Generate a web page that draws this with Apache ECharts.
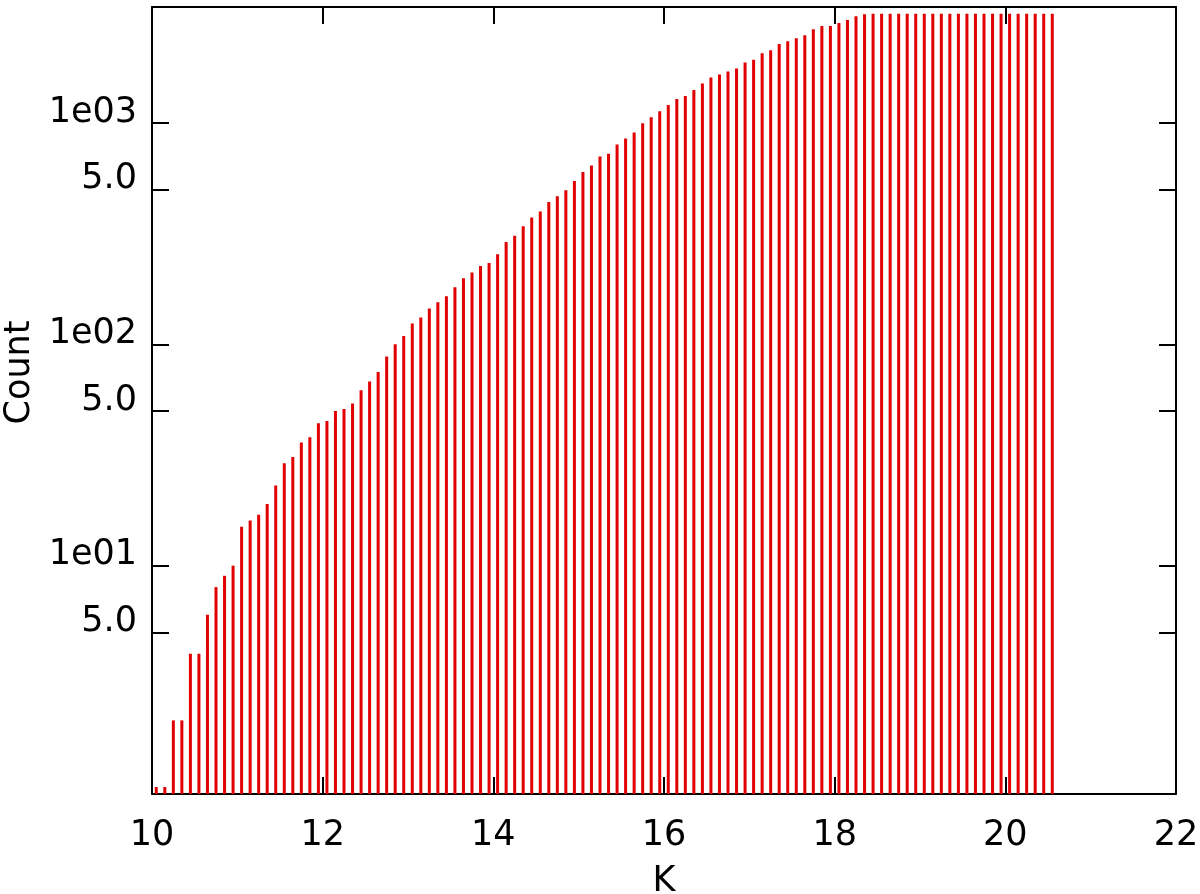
<!DOCTYPE html>
<html>
<head>
<meta charset="utf-8">
<script src="https://cdn.jsdelivr.net/npm/echarts@6/dist/echarts.min.js"></script>
<style>
html,body{margin:0;padding:0;background:#fff;}
#chart{width:1200px;height:894px;}
</style>
</head>
<body>
<div id="chart"></div>
<script>
// Bin centres (K magnitude)
var binCenters = [
  10.05,10.15,10.25,10.35,10.45,10.55,10.65,10.75,10.85,10.95,
  11.05,11.15,11.25,11.35,11.45,11.55,11.65,11.75,11.85,11.95,
  12.05,12.15,12.25,12.35,12.45,12.55,12.65,12.75,12.85,12.95,
  13.05,13.15,13.25,13.35,13.45,13.55,13.65,13.75,13.85,13.95,
  14.05,14.15,14.25,14.35,14.45,14.55,14.65,14.75,14.85,14.95,
  15.05,15.15,15.25,15.35,15.45,15.55,15.65,15.75,15.85,15.95,
  16.05,16.15,16.25,16.35,16.45,16.55,16.65,16.75,16.85,16.95,
  17.05,17.15,17.25,17.35,17.45,17.55,17.65,17.75,17.85,17.95,
  18.05,18.15,18.25,18.35,18.45,18.55,18.65,18.75,18.85,18.95,
  19.05,19.15,19.25,19.35,19.45,19.55,19.65,19.75,19.85,19.95,
  20.05,20.15,20.25,20.35,20.45,20.55
];
// Cumulative counts
var counts = [
  1,1,2,2,4,4,6,8,9,10,
  15,16,17,19,23,29,31,36,38,44,
  45,50,51,54,62,68,75,88,100,109,
  124,132,145,155,165,181,199,211,226,233,
  255,290,309,341,374,398,439,467,497,547,
  601,642,705,725,800,851,905,997,1061,1129,
  1206,1283,1324,1409,1506,1603,1653,1706,1760,1873,
  1932,2063,2128,2273,2337,2412,2488,2648,2741,2741,
  2828,2917,3030,3100,3117,3117,3117,3117,3117,3117,
  3117,3117,3117,3117,3117,3117,3117,3117,3117,3117,
  3117,3117,3117,3117,3117,3117
];
var xTicks = [10,12,14,16,18,20,22];
var yTickValues = [5,10,50,100,500,1000];
var yTickLabels = ['5.0','1e01','5.0','1e02','5.0','1e03'];

var Y_MIN = 0.93, Y_MAX = 3340;
var FONT = 'DejaVu Sans';
var FS = 35;
var data = binCenters.map(function(k,i){ return [k, counts[i]]; });

var chart = echarts.init(document.getElementById('chart'), null, {renderer:'canvas'});
var axisLine = {show:true, lineStyle:{color:'#000', width:2}};
var tick = {show:true, inside:true, length:17, lineStyle:{color:'#000', width:2}};
function yFmt(v){
  var i = yTickValues.indexOf(Math.round(v));
  return i >= 0 ? yTickLabels[i] : '';
}
chart.setOption({
  animation:false,
  backgroundColor:'#fff',
  grid:{left:152, right:24, top:7, bottom:100, containLabel:false, outerBoundsMode:'none'},
  xAxis:[{
    type:'value', min:10, max:22, interval:2, position:'bottom',
    name:'K', nameLocation:'middle', nameGap:70,
    nameTextStyle:{fontFamily:FONT, fontSize:FS, color:'#000'},
    axisLine:axisLine, axisTick:tick, splitLine:{show:false},
    axisLabel:{fontFamily:FONT, fontSize:FS, color:'#000', margin:24,
      customValues:xTicks, formatter:function(v){return String(v);}}
  },{
    type:'value', min:10, max:22, interval:2, position:'top',
    axisLine:axisLine, axisTick:tick, splitLine:{show:false},
    axisLabel:{show:false}
  }],
  yAxis:[{
    type:'log', min:Y_MIN, max:Y_MAX, position:'left',
    name:'Count', nameLocation:'middle', nameGap:113, nameRotate:90,
    nameTextStyle:{fontFamily:FONT, fontSize:FS, color:'#000', padding:[0,0,0,56]},
    axisLine:axisLine,
    axisTick:{show:true, inside:true, length:17, lineStyle:{color:'#000', width:2}, customValues:yTickValues},
    splitLine:{show:false}, minorTick:{show:false},
    axisLabel:{fontFamily:FONT, fontSize:FS, color:'#000', margin:15,
      customValues:yTickValues, formatter:yFmt, verticalAlign:'bottom', lineHeight:21}
  },{
    type:'log', min:Y_MIN, max:Y_MAX, position:'right',
    axisLine:axisLine,
    axisTick:{show:true, inside:true, length:17, lineStyle:{color:'#000', width:2}, customValues:yTickValues},
    splitLine:{show:false},
    axisLabel:{show:false}
  }],
  series:[{
    type:'custom',
    xAxisIndex:0, yAxisIndex:0,
    encode:{x:0, y:1},
    data:data,
    clip:true,
    renderItem:function(params, api){
      var x = api.value(0), y = api.value(1);
      var top = api.coord([x, y]);
      var base = api.coord([x, Y_MIN]);
      return {type:'line', shape:{x1:top[0], y1:top[1], x2:base[0], y2:base[1]},
        style:{stroke:'#e00000', lineWidth:3}};
    }
  }]
});
</script>
</body>
</html>
